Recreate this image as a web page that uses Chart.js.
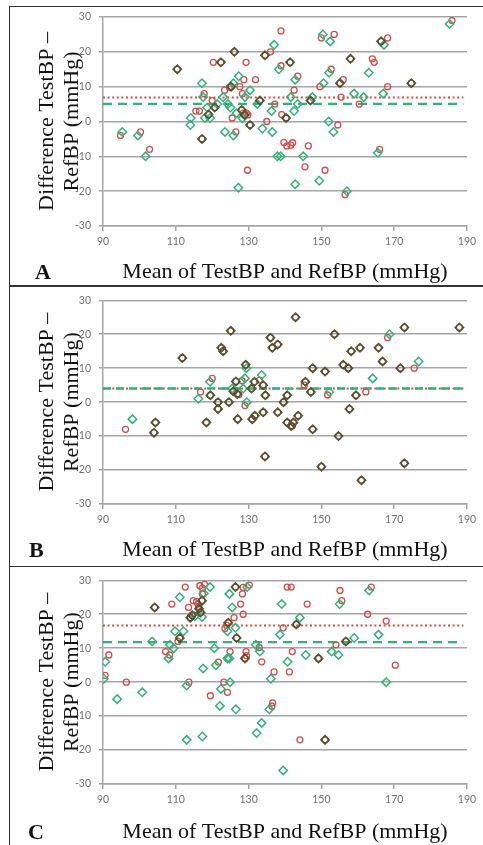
<!DOCTYPE html>
<html><head><meta charset="utf-8">
<script src="https://cdn.jsdelivr.net/npm/chart.js@4/dist/chart.umd.min.js"></script>
<style>
html,body{margin:0;padding:0;background:#fff;width:483px;height:845px;overflow:hidden;position:relative}
canvas{position:absolute;left:0}
.frame{position:absolute;left:9px;width:490px;border:1.5px solid #333;box-sizing:border-box;pointer-events:none}
.lab{position:absolute;font:bold 22px "Liberation Serif","Times New Roman",serif;line-height:22px;color:#111}
</style></head><body>
<canvas id="cA" width="483" height="286" style="top:0px"></canvas>
<canvas id="cB" width="483" height="280" style="top:286px"></canvas>
<canvas id="cC" width="483" height="279" style="top:566px"></canvas>
<div class="frame" style="top:6px;height:281px"></div>
<div class="frame" style="top:285px;height:282px"></div>
<div class="frame" style="top:566px;height:280px"></div>
<div class="lab" style="left:35px;top:261px">A</div>
<div class="lab" style="left:29px;top:539px">B</div>
<div class="lab" style="left:28px;top:821px">C</div>
<script>
// ---------- data ----------
const X_TITLE = 'Mean of TestBP and RefBP (mmHg)';
const Y_TITLE = ['Difference TestBP \u2013', 'RefBP (mmHg)'];
const X_TICK_RANGE = [90, 190];
const Y_TICK_RANGE = [-30, 30];

// Panel A
const A_RED = [[94.8,-4],[100.3,-3],[102.8,-8],[117.8,8],[115.5,3],[116.5,3],[120.3,17],[120,6],[123.4,9],[124.7,9.8],[125.5,1],[126.5,-3],[127.6,10],[128.7,12],[128.3,8],[129.3,17],[128.5,2.4],[129.4,2.4],[129.8,1.9],[129.7,-14],[131.9,12],[136,20],[135,0],[137.2,5],[138.9,16],[138.9,26],[139.1,2],[139.7,-6],[140.5,-7],[141.6,-6.8],[142.1,-6.1],[142.5,9],[143.5,13],[145.5,-13],[146.4,-7],[150,24],[149.6,10],[151,-14],[153.5,25],[152.7,15],[154.5,-1],[156,12],[155.4,7],[156.5,-21],[160.4,5],[164,18],[164.5,17],[166,-8],[168.2,24],[168.2,10],[185.9,29]];
const A_GREEN = [[95.3,-3],[99.6,-4],[101.7,-10],[117.2,11],[117.5,7],[114.1,1],[114,-1],[118.6,4],[119.4,1],[118,1],[121.4,5],[123,7],[125.8,11],[123.5,-3],[124.3,5],[125,4],[125.8,-4],[126.7,2.4],[127.3,13],[127.2,-19],[129,7],[128.3,0.9],[130.4,9],[132.4,5],[133.8,-2],[136.3,3],[136.5,-3],[137,22],[138.3,15],[137.9,-10],[138.8,-10],[141.6,7],[142.8,12],[142.5,3],[143.5,5],[142.8,-18],[145,-10],[147.5,7],[150.4,25],[150.6,11],[149.4,-17],[152.4,23],[152.1,14],[152,0],[153.3,-3],[157,-20],[159,8],[161.6,7],[163,14],[165.5,-9],[167.2,22],[167,8],[185.2,28]];
const A_BOTH = [[110.4,15],[117.2,-5],[119,2],[122.4,17],[120.7,4],[125.2,10],[126.1,20],[128.1,3.3],[128.9,1.9],[130.4,-1],[133.1,6],[134.5,19],[140.3,1],[141.4,17],[147,6],[155.1,11],[158,18],[166.4,23],[174.7,11]];
const A_MEAN_RED = 6.9, A_MEAN_GREEN = 5.05;

// Panel B
const B_RED = [[96.2,-8],[116.8,3],[120,7],[127.3,2.2],[128.2,6.3],[129,-1],[133,6.5],[142,-7],[145.3,5],[151.7,2.1],[162.2,3],[168.2,19],[175.5,10]];
const B_GREEN = [[98.1,-5],[116.2,1],[119.4,6],[125.5,4],[128.5,4],[129.4,10],[129,7],[129.5,0],[133.6,8],[152.2,3],[164.1,7],[168.7,20],[176.7,12]];
const B_BOTH = [[104,-9],[104.4,-6],[111.8,13],[118.4,-6],[119.5,2],[121.6,0],[121.6,-2],[122.5,16],[123,15],[125.1,21],[124.6,0],[125.8,3.2],[126.5,6.1],[126.9,2.4],[127,-5],[129.2,11],[130.8,4],[131,-5],[131.6,6],[131.7,-4],[134,5],[134,-3],[134.6,2],[134.5,-16],[136,19],[136.5,16],[138,17],[138,-3],[139.6,0],[140.6,2],[140.6,-6],[142.3,-6],[141.7,-7],[142.9,25],[143.6,-4],[145.6,6],[147.1,3],[147.6,10],[147.6,-8],[150,-19],[151,9],[153.6,20],[154.7,-10],[156,11],[157.4,10],[157.7,-2],[158.2,15],[159.5,2],[160.6,16],[161,-23],[165.7,16],[166.8,12],[171.7,10],[172.8,22],[172.8,-18],[187.9,22]];
const B_MEAN_RED = 4.0, B_MEAN_GREEN = 4.0;

// Panel C
const C_RED = [[90.6,2],[91.6,8],[96.4,0],[107.2,9],[108.3,8],[108.9,23],[110.6,12],[112.6,28],[113.6,0],[113.5,22],[114.8,24],[115.7,23.7],[116.1,23],[116.3,22.3],[116.6,28.4],[117.3,27.7],[117.3,26],[117.9,28.8],[119.5,-4],[121.7,5.9],[123.2,0],[123.5,15.8],[124,16.7],[124.2,-3],[124.9,9],[126,19],[127.8,23],[128.3,26],[128.5,20],[128.5,27.9],[129.3,9],[129.4,7.8],[130.2,28.6],[132.9,10.2],[133.6,6],[136.4,-7.1],[136.6,-6.1],[137,3],[139.5,16],[140.6,28],[141.7,28],[141.2,3],[142,9],[144.1,-17],[146.1,23],[154,11],[155.1,27],[155.6,24],[162.7,20],[163.7,28],[167.8,18],[170.3,5]];
const C_GREEN = [[90.2,1],[90.6,6],[93.9,-5],[100.8,-3],[103.5,12],[108,7],[108.4,11],[109.4,10],[109.8,15],[111.1,25],[112.1,15],[113,-1],[113,-17],[115.2,19.4],[117.2,19.2],[117.5,4],[117.3,-16],[117.7,26.1],[119.4,28],[120.6,10],[121,5],[122.1,-7],[122.4,-2],[124.2,15],[124.2,7],[124.7,7],[124.9,0],[124.7,26],[125.5,22],[126.4,16],[126.5,-8],[129.6,28],[132,11],[132.2,-15],[133.1,9],[133.6,-12],[135.7,-8],[136.1,1],[138.6,14],[139.1,23],[139.5,-26],[140.7,6],[144.1,19],[145.7,8],[152.8,9],[154.7,8],[155,23],[159,13],[163.1,27],[165.7,14],[167.8,0]];
const C_BOTH = [[104.2,22],[111.1,13],[114,19],[114.5,19.7],[116.4,21.6],[116.8,20.5],[117.2,24],[124.4,17.5],[126.4,28],[126.7,13],[129,7],[143.1,17],[149.2,7],[151,-17],[156.7,12]];
const C_MEAN_RED = 16.7, C_MEAN_GREEN = 11.8;

const MEAN_LINE_X = [90, 189];

// ---------- styling / layout ----------
const SERIF = '"Liberation Serif","Times New Roman",serif';
const RED = '#cd4f4c', GREEN = '#36b079', DARK = '#5b5131', GRID = '#a5a5a5', TICK = '#707070';
const TITLE_LH = 25;
const PLOT_LEFT = 103, PLOT_RIGHT = 467, SCALE_LEFT = 34.5;

function pts(a){ return a.map(([x,y]) => ({x, y})); }

function build(id, geo, red, green, both, meanRed, meanGreen, greenDash){
  const cv = document.getElementById(id);
  const H = cv.height;
  const aTop = geo.areaTop - geo.top, aBot = geo.areaBottom - geo.top, tY = geo.titleY - geo.top;
  const scaleBottom = tY + TITLE_LH / 2;
  const nR = red.length, nG = green.length;
  const line = (m) => MEAN_LINE_X.map(x => ({x, y: m}));
  new Chart(cv, {
    type: 'scatter',
    data: { datasets: [
      { data: line(meanRed), showLine: true, borderColor: RED, borderWidth: 2, borderDash: [2, 2.6], pointRadius: 0, order: 4 },
      { data: line(meanGreen), showLine: true, borderColor: GREEN, borderWidth: 2.4, borderDash: greenDash, pointRadius: 0, order: 3 },
      { data: pts(red.concat(both)), pointStyle: 'circle', pointRadius: 3, pointBorderWidth: 1.3,
        borderColor: RED, backgroundColor: 'rgba(0,0,0,0)',
        pointBorderColor: c => c.dataIndex >= nR ? DARK : RED, pointBackgroundColor: 'rgba(0,0,0,0)', order: 2 },
      { data: pts(green.concat(both)), pointStyle: 'rectRot', pointRadius: 4.2, pointBorderWidth: 1.5,
        borderColor: GREEN, backgroundColor: 'rgba(0,0,0,0)',
        pointBorderColor: c => c.dataIndex >= nG ? DARK : GREEN, pointBackgroundColor: 'rgba(0,0,0,0)', order: 1 }
    ]},
    options: {
      responsive: false, animation: false, events: [],
      layout: { padding: { left: SCALE_LEFT, right: 483 - PLOT_RIGHT, top: aTop, bottom: H - scaleBottom } },
      plugins: { legend: { display: false }, tooltip: { enabled: false } },
      scales: {
        x: { type: 'linear', min: X_TICK_RANGE[0], max: X_TICK_RANGE[1],
          ticks: { stepSize: 20, color: TICK, font: { family: 'Lato', size: 10.5 }, padding: 4, maxRotation: 0 },
          grid: { drawOnChartArea: false, color: GRID, lineWidth: 1.5, tickLength: 5 },
          border: { color: GRID, width: 1.5 },
          title: { display: true, text: X_TITLE, color: '#111', padding: 0,
            font: { family: SERIF, size: 22, lineHeight: TITLE_LH / 22 } },
          afterFit(s){ s.height = scaleBottom - aBot; }
        },
        y: { type: 'linear', min: Y_TICK_RANGE[0], max: Y_TICK_RANGE[1],
          ticks: { stepSize: 10, color: TICK, font: { family: 'Lato', size: 10.5 }, padding: 8 },
          grid: { color: GRID, lineWidth: 1.5, tickLength: 4 },
          border: { color: GRID, width: 1.5 },
          title: { display: true, text: Y_TITLE, color: '#111', padding: 0,
            font: { family: SERIF, size: 22, lineHeight: TITLE_LH / 22 } },
          afterFit(s){ s.width = PLOT_LEFT - SCALE_LEFT; }
        }
      }
    }
  });
}

build('cA', {top: 0, areaTop: 17, areaBottom: 226, titleY: 272}, A_RED, A_GREEN, A_BOTH, A_MEAN_RED, A_MEAN_GREEN, [9, 6]);
build('cB', {top: 286, areaTop: 296, areaBottom: 504, titleY: 550}, B_RED, B_GREEN, B_BOTH, B_MEAN_RED, B_MEAN_GREEN, [8, 5]);
build('cC', {top: 566, areaTop: 576, areaBottom: 784, titleY: 832}, C_RED, C_GREEN, C_BOTH, C_MEAN_RED, C_MEAN_GREEN, [9, 6]);
</script>
</body></html>
